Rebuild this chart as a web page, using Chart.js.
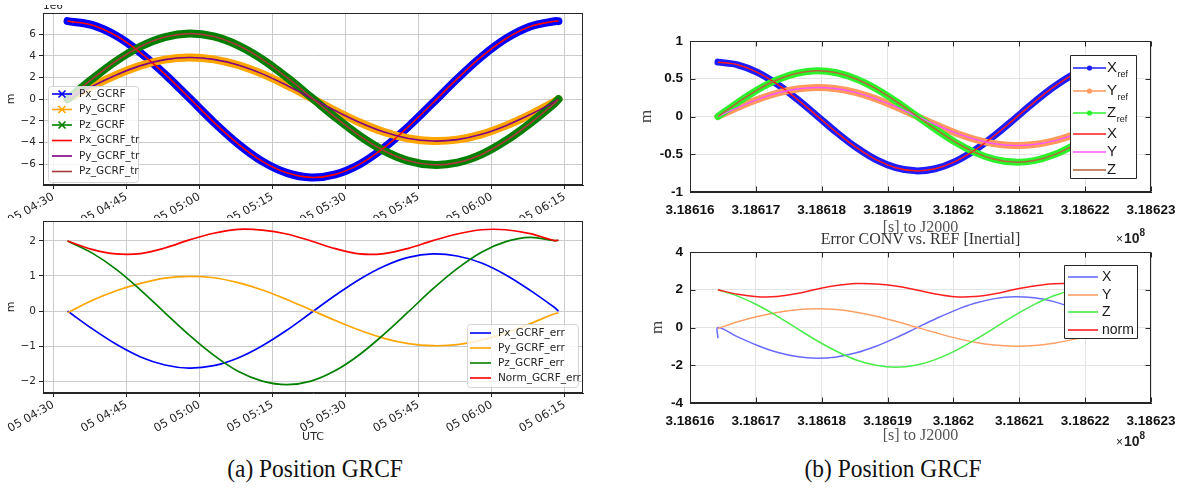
<!DOCTYPE html>
<html>
<head>
<meta charset="utf-8">
<title>Position GRCF</title>
<script src="https://cdn.jsdelivr.net/npm/chart.js@4.4.1/dist/chart.umd.min.js"></script>
<style>
  html, body { margin: 0; padding: 0; background: #fff; overflow: hidden; }
  body { position: relative; width: 1177px; height: 495px; }
  canvas { position: absolute; }
  .caption { position: absolute; top: 452px; width: 300px; margin-left: -150px; text-align: center;
             font-family: "Liberation Serif", "DejaVu Serif", serif; font-size: 26px; line-height: 34px; color: #111;
             transform: scaleX(0.9); }
</style>
</head>
<body>
<canvas id="posUtc" width="600" height="218" style="left:0;top:0"></canvas>
<canvas id="errUtc" width="600" height="236" style="left:0;top:214px"></canvas>
<canvas id="posJ2000" width="600" height="250" style="left:600px;top:0"></canvas>
<canvas id="errJ2000" width="600" height="225" style="left:600px;top:225px"></canvas>
<div class="caption" style="left:315px">(a) Position GRCF</div>
<div class="caption" style="left:893px">(b) Position GRCF</div>
<script>
// sample epochs, 5 min apart: UTC minute of day 05 and seconds past J2000
const utcMinute = [272.9, 277.9, 282.9, 287.9, 292.9, 297.9, 302.9, 307.9, 312.9, 317.9, 322.9,
                   327.9, 332.9, 337.9, 342.9, 347.9, 352.9, 357.9, 362.9, 367.9, 372.9, 373.7];
const secJ2000 = [318616424, 318616724, 318617024, 318617324, 318617624, 318617924, 318618224, 318618524,
                  318618824, 318619124, 318619424, 318619724, 318620024, 318620324, 318620624, 318620924,
                  318621224, 318621524, 318621824, 318622124, 318622424, 318622472];

// GCRF position [1e6 m]
const posX = [7.20, 6.85, 5.85, 4.28, 2.31, 0.12, -2.10, -4.10, -5.72, -6.78, -7.20,
              -6.92, -5.98, -4.46, -2.52, -0.34, 1.88, 3.92, 5.58, 6.70, 7.19, 7.20];
const posY = [0.00, 1.18, 2.24, 3.10, 3.65, 3.85, 3.68, 3.16, 2.34, 1.29, 0.12,
              -1.06, -2.14, -3.02, -3.61, -3.85, -3.72, -3.23, -2.43, -1.41, -0.24, 0.00];
const posZ = [0.00, 1.85, 3.53, 4.86, 5.73, 6.05, 5.79, 4.97, 3.68, 2.03, 0.19,
              -1.67, -3.37, -4.75, -5.67, -6.04, -5.84, -5.08, -3.82, -2.21, -0.38, 0.00];

// position error CONV - REF [m]
const errX = [0.00, -0.50, -0.95, -1.31, -1.54, -1.63, -1.56, -1.34, -0.99, -0.55, -0.05,
              0.45, 0.91, 1.28, 1.53, 1.63, 1.57, 1.37, 1.03, 0.59, 0.10, 0.00];
const errY = [-0.05, 0.30, 0.58, 0.79, 0.94, 0.99, 0.95, 0.81, 0.60, 0.33, 0.03,
              -0.27, -0.55, -0.78, -0.93, -0.99, -0.96, -0.83, -0.63, -0.36, -0.08, -0.05];
const errZ = [2.00, 1.66, 1.19, 0.60, -0.05, -0.69, -1.26, -1.72, -2.00, -2.10, -2.00,
              -1.70, -1.24, -0.66, -0.02, 0.63, 1.21, 1.68, 1.98, 2.10, 2.01, 2.02];
const errNorm = [2.00, 1.76, 1.63, 1.64, 1.80, 2.03, 2.22, 2.33, 2.31, 2.20, 2.00,
                 1.78, 1.63, 1.64, 1.79, 2.01, 2.20, 2.32, 2.32, 2.21, 2.01, 2.02];
const errXFirst = -0.57; // first CONV X sample, before it settles

const utcTicks = [270, 285, 300, 315, 330, 345, 360, 375];
const posTicks = [-6, -4, -2, 0, 2, 4, 6];
const errTicks = [-2, -1, 0, 1, 2];
const j2000Ticks = [318616000, 318617000, 318618000, 318619000, 318620000, 318621000, 318622000, 318623000];
const refTicks = [-1, -0.5, 0, 0.5, 1];
const convTicks = [-4, -2, 0, 2, 4];

const REF_UNIT = 0.1; // right-hand position plot is in 1e7 m

Chart.defaults.animation = false;
Chart.defaults.events = [];
Chart.defaults.plugins.legend.display = false;
Chart.defaults.plugins.tooltip.enabled = false;
Chart.defaults.elements.point.radius = 0;
Chart.defaults.elements.line.tension = 0.35;

const series = (xs, ys, k = 1) => ys.map((v, i) => ({ x: xs[i], y: +(v * k).toFixed(4) }));
const hhmm = m => String(Math.floor(m / 60)).padStart(2, '0') + ':' + String(m % 60).padStart(2, '0');
const minus = v => (v < 0 ? '\u2212' + Math.abs(v) : String(v));
const setTicks = list => s => { s.ticks = list.map(value => ({ value })); };

// draws the full axes box, optionally with MATLAB style inward ticks
function frame(color, inward) {
  return {
    id: 'frame',
    afterDatasetsDraw(chart) {
      const { ctx, chartArea: a, scales } = chart;
      const l = Math.round(a.left) + 0.5, t = Math.round(a.top) + 0.5;
      const r = Math.round(a.right) - 0.5, b = Math.round(a.bottom) - 0.5;
      ctx.save();
      ctx.strokeStyle = color;
      ctx.lineWidth = 1;
      ctx.strokeRect(l, t, r - l, b - t);
      if (inward) {
        ctx.beginPath();
        scales.x.ticks.forEach(tk => {
          const px = Math.round(scales.x.getPixelForValue(tk.value)) + 0.5;
          ctx.moveTo(px, b); ctx.lineTo(px, b - inward);
          ctx.moveTo(px, t); ctx.lineTo(px, t + inward);
        });
        scales.y.ticks.forEach(tk => {
          const py = Math.round(scales.y.getPixelForValue(tk.value)) + 0.5;
          ctx.moveTo(l, py); ctx.lineTo(l + inward, py);
          ctx.moveTo(r, py); ctx.lineTo(r - inward, py);
        });
        ctx.stroke();
      }
      ctx.restore();
    }
  };
}

// legend box drawn inside the plot, one row per dataset
function boxLegend(cfg) {
  return {
    id: 'boxLegend',
    afterDraw(chart) {
      const ctx = chart.ctx;
      ctx.save();
      ctx.beginPath();
      if (cfg.radius) ctx.roundRect(cfg.x, cfg.y, cfg.w, cfg.h, cfg.radius);
      else ctx.rect(cfg.x, cfg.y, cfg.w, cfg.h);
      ctx.fillStyle = cfg.fill;
      ctx.fill();
      ctx.strokeStyle = cfg.edge;
      ctx.lineWidth = 1;
      ctx.stroke();
      chart.data.datasets.forEach((ds, i) => {
        const y = cfg.rows[i];
        const [x0, x1] = cfg.line;
        const mx = (x0 + x1) / 2;
        ctx.strokeStyle = ds.borderColor;
        ctx.fillStyle = ds.borderColor;
        ctx.lineWidth = ds.keyWidth || 1.6;
        ctx.beginPath();
        ctx.moveTo(x0, y); ctx.lineTo(x1, y);
        ctx.stroke();
        if (ds.keyMarker === 'x') {
          ctx.beginPath();
          ctx.moveTo(mx - 3.5, y - 3.5); ctx.lineTo(mx + 3.5, y + 3.5);
          ctx.moveTo(mx - 3.5, y + 3.5); ctx.lineTo(mx + 3.5, y - 3.5);
          ctx.stroke();
        } else if (ds.keyMarker === 'dot') {
          ctx.beginPath();
          ctx.arc(mx, y, 2.6, 0, Math.PI * 2);
          ctx.fill();
        }
        ctx.fillStyle = cfg.color;
        ctx.font = cfg.font;
        ctx.textBaseline = 'middle';
        ctx.textAlign = 'left';
        ctx.fillText(ds.label, cfg.textX, y);
        if (ds.keySub) {
          const w = ctx.measureText(ds.label).width;
          ctx.font = cfg.subFont;
          ctx.fillText(ds.keySub, cfg.textX + w + 0.5, y + cfg.subDy);
        }
      });
      ctx.restore();
    }
  };
}

// free text: each note is a list of runs drawn left to right
function notes(list) {
  return {
    id: 'notes',
    afterDraw(chart) {
      const ctx = chart.ctx;
      list.forEach(n => {
        ctx.save();
        if (n.clipTop !== undefined) {
          ctx.beginPath();
          ctx.rect(0, n.clipTop, chart.width, chart.height);
          ctx.clip();
        }
        ctx.fillStyle = n.color;
        ctx.textBaseline = 'alphabetic';
        let x = n.x;
        if (n.center) {
          x = (chart.chartArea.left + chart.chartArea.right) / 2;
          ctx.textAlign = 'center';
        } else {
          ctx.textAlign = 'left';
        }
        n.runs.forEach(r => {
          ctx.font = r.font;
          ctx.fillText(r.text, x, n.y + (r.dy || 0));
          x += ctx.measureText(r.text).width + (r.gap || 0);
        });
        ctx.restore();
      });
    }
  };
}

// ---- matplotlib style panels (UTC axis) ----
const mplFont = { family: 'DejaVu Sans', size: 10.5 };
const mplDateFont = { family: 'DejaVu Sans', size: 11.5 };

function utcScales(yMin, yMax, yTicks, xHeight, xTitle) {
  return {
    x: {
      type: 'linear', min: 267.86, max: 378.74,
      afterBuildTicks: setTicks(utcTicks),
      afterFit: s => { s.height = xHeight; s.paddingLeft = 0; s.paddingRight = 0; },
      ticks: { autoSkip: false, minRotation: 30, maxRotation: 30, padding: 1, color: '#262626',
               font: mplDateFont, callback: v => '05 ' + hhmm(v) },
      grid: { color: '#cccccc', tickColor: '#262626', tickLength: 4 },
      border: { color: '#262626' },
      title: xTitle
        ? { display: true, text: xTitle, color: '#262626', font: { family: 'DejaVu Sans', size: 11 }, padding: { top: 0, bottom: 6 } }
        : { display: false }
    },
    y: {
      min: yMin, max: yMax,
      afterBuildTicks: setTicks(yTicks),
      afterFit: s => { s.width = 43; s.paddingTop = 0; s.paddingBottom = 0; },
      ticks: { padding: 3, color: '#262626', font: mplFont, callback: minus },
      grid: { color: '#cccccc', tickColor: '#262626', tickLength: 4 },
      border: { color: '#262626' },
      title: { display: true, text: 'm', color: '#262626', font: { family: 'DejaVu Sans', size: 11 }, padding: { top: 5, bottom: 0 } }
    }
  };
}

const stack = list => list.map((ds, i) => Object.assign(ds, { order: -i }));

const band = (label, xs, ys, color, width, marker, k = 1) => ({
  label, data: series(xs, ys, k), borderColor: color, borderWidth: width,
  borderCapStyle: 'round', borderJoinStyle: 'round', keyMarker: marker
});
const thin = (label, xs, ys, color, width, k = 1) => ({
  label, data: series(xs, ys, k), borderColor: color, borderWidth: width
});

new Chart(document.getElementById('posUtc'), {
  type: 'line',
  data: {
    datasets: stack([
      band('Px_GCRF', utcMinute, posX, '#0000ff', 8, 'x'),
      band('Py_GCRF', utcMinute, posY, '#ffa500', 8, 'x'),
      band('Pz_GCRF', utcMinute, posZ, '#008000', 8, 'x'),
      thin('Px_GCRF_tr', utcMinute, posX, '#ff0000', 1.6),
      thin('Py_GCRF_tr', utcMinute, posY, '#800080', 1.6),
      thin('Pz_GCRF_tr', utcMinute, posZ, '#a83a3a', 1.6)
    ])
  },
  options: {
    responsive: false,
    layout: { padding: { left: 0, top: 13, right: 17, bottom: 0 } },
    scales: utcScales(-7.9, 7.95, posTicks, 33, null)
  },
  plugins: [
    frame('#262626', 0),
    boxLegend({ x: 48.5, y: 86.5, w: 90, h: 96, radius: 3, fill: 'rgba(255,255,255,0.8)', edge: '#d4d4d4',
                rows: [94, 109.5, 125, 140.5, 156, 171.5], line: [52, 72], textX: 79,
                font: '10.5px "DejaVu Sans"', color: '#262626' }),
    notes([{ x: 43, y: 9, color: '#262626', clipTop: 5, runs: [{ text: '1e6', font: '10.5px "DejaVu Sans"' }] }])
  ]
});

new Chart(document.getElementById('errUtc'), {
  type: 'line',
  data: {
    datasets: stack([
      thin('Px_GCRF_err', utcMinute, errX, '#0000ff', 1.7),
      thin('Py_GCRF_err', utcMinute, errY, '#ffa500', 1.7),
      thin('Pz_GCRF_err', utcMinute, errZ, '#008000', 1.7),
      thin('Norm_GCRF_err', utcMinute, errNorm, '#ff0000', 1.7)
    ])
  },
  options: {
    responsive: false,
    layout: { padding: { left: 0, top: 7, right: 17, bottom: 0 } },
    scales: utcScales(-2.34, 2.57, errTicks, 57, 'UTC')
  },
  plugins: [
    frame('#262626', 0),
    boxLegend({ x: 467.5, y: 110.5, w: 111, h: 63, radius: 3, fill: 'rgba(255,255,255,0.8)', edge: '#d4d4d4',
                rows: [119, 134, 149, 164], line: [470, 491], textX: 498,
                font: '10.5px "DejaVu Sans"', color: '#262626' })
  ]
});

// ---- MATLAB style panels (seconds to J2000) ----
const mlTickFont = { family: 'Liberation Sans', size: 13.5, weight: 'bold' };
const serifTitle = { family: 'Liberation Serif', size: 16 };

function j2000Scales(yMin, yMax, yTicks, yWidth, xHeight, xTitlePad) {
  return {
    x: {
      type: 'linear', min: 318616000, max: 318623000,
      afterBuildTicks: setTicks(j2000Ticks),
      afterFit: s => { s.height = xHeight; s.paddingLeft = 0; s.paddingRight = 0; },
      ticks: { autoSkip: false, maxRotation: 0, padding: 10, color: '#111', font: mlTickFont,
               callback: v => (v / 1e8).toPrecision(6).replace(/0+$/, '') },
      grid: { color: '#e4e4e4', drawTicks: false },
      border: { color: '#262626' },
      title: { display: true, text: '[s] to J2000', color: '#555', font: serifTitle, padding: { top: 0, bottom: xTitlePad } }
    },
    y: {
      min: yMin, max: yMax,
      afterBuildTicks: setTicks(yTicks),
      afterFit: s => { s.width = yWidth; s.paddingTop = 0; s.paddingBottom = 0; },
      ticks: { padding: 7, color: '#111', font: mlTickFont, callback: v => String(v) },
      grid: { color: '#e4e4e4', drawTicks: false },
      border: { color: '#262626' },
      title: { display: true, text: 'm', color: '#444', font: { family: 'Liberation Serif', size: 17 }, padding: { top: 4, bottom: 0 } }
    }
  };
}

const times10 = (x, y) => ({
  x, y, color: '#222', runs: [
    { text: '\u00d7', font: '12px "Liberation Sans"', gap: 1 },
    { text: '10', font: 'bold 14px "Liberation Sans"' },
    { text: '8', font: 'bold 10px "Liberation Sans"', dy: -7 }
  ]
});

new Chart(document.getElementById('posJ2000'), {
  type: 'line',
  data: {
    datasets: stack([
      band('X', secJ2000, posX, '#1c1cff', 7, 'dot', REF_UNIT),
      band('Y', secJ2000, posY, '#ff9a5c', 7, 'dot', REF_UNIT),
      band('Z', secJ2000, posZ, '#2cf22c', 7, 'dot', REF_UNIT),
      thin('X', secJ2000, posX, '#ff1a1a', 1.5, REF_UNIT),
      thin('Y', secJ2000, posY, '#ff55ff', 1.5, REF_UNIT),
      thin('Z', secJ2000, posZ, '#b5653a', 1.5, REF_UNIT)
    ]).map((ds, i) => (i < 3 ? Object.assign(ds, { keySub: 'ref' }) : ds))
  },
  options: {
    responsive: false,
    layout: { padding: { left: 32, top: 41, right: 49, bottom: 0 } },
    scales: j2000Scales(-1, 1, refTicks, 58, 58, 13)
  },
  plugins: [
    frame('#262626', 5),
    boxLegend({ x: 470.5, y: 55.5, w: 66, h: 123, radius: 0, fill: '#ffffff', edge: '#262626',
                rows: [68, 91, 113, 134, 152, 170], line: [473, 506], textX: 507,
                font: '15px "Liberation Sans"', subFont: '9px "Liberation Sans"', subDy: 7, color: '#1a1a1a' }),
    notes([times10(516, 243)])
  ]
});

const errXConv = [{ x: secJ2000[0], y: errXFirst }].concat(series(secJ2000, errX));

new Chart(document.getElementById('errJ2000'), {
  type: 'line',
  data: {
    datasets: stack([
      { label: 'X', data: errXConv, borderColor: '#6a6aff', borderWidth: 1.5 },
      thin('Y', secJ2000, errY, '#ffa066', 1.5),
      thin('Z', secJ2000, errZ, '#4aed4a', 1.5),
      thin('norm', secJ2000, errNorm, '#ff2020', 1.5)
    ])
  },
  options: {
    responsive: false,
    layout: { padding: { left: 43, top: 27, right: 49, bottom: 0 } },
    scales: j2000Scales(-4, 4, convTicks, 47, 47, 5)
  },
  plugins: [
    frame('#262626', 5),
    boxLegend({ x: 464.5, y: 40.5, w: 73, h: 73, radius: 0, fill: '#ffffff', edge: '#262626',
                rows: [52, 70, 87, 105], line: [468, 498], textX: 502,
                font: '14px "Liberation Sans"', color: '#1a1a1a' }),
    notes([
      { center: true, y: 19, color: '#333', runs: [{ text: 'Error CONV vs. REF [Inertial]', font: '16px "Liberation Serif"' }] },
      times10(516, 221)
    ])
  ]
});
</script>
</body>
</html>
